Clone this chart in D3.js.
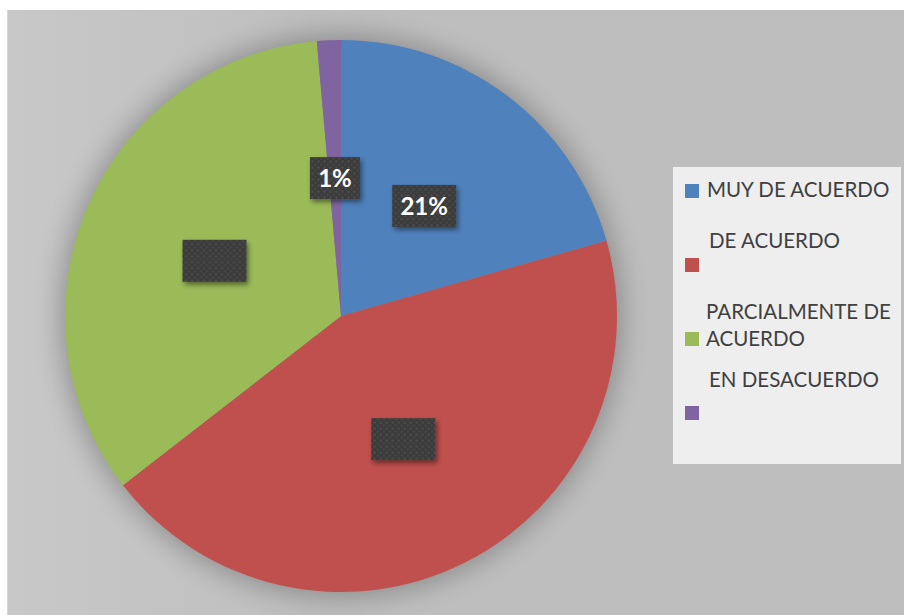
<!DOCTYPE html>
<html><head><meta charset="utf-8">
<script src="https://cdn.jsdelivr.net/npm/d3@7"></script>
<style>body{margin:0;background:#fff}svg{display:block}</style>
</head><body>
<svg id="chart" width="904" height="615"></svg>
<script>
const categories = ["MUY DE ACUERDO", "DE ACUERDO", "PARCIALMENTE DE ACUERDO", "EN DESACUERDO"];
const values = [20.6, 43.9, 34.1, 1.4];
const dataLabels = ["21%", "", "", "1%"];
const colors = ["#4f81bd", "#c0504d", "#9bbb59", "#8064a2"];
const legendLines = [["MUY DE ACUERDO"], ["DE ACUERDO", ""], ["PARCIALMENTE DE", "ACUERDO"], ["EN DESACUERDO", ""]];

const svg = d3.select("#chart");
const defs = svg.append("defs");

const bg = defs.append("linearGradient").attr("id", "bg").attr("x1", 0).attr("x2", 1).attr("y1", 0).attr("y2", 0);
bg.append("stop").attr("offset", "0%").attr("stop-color", "#c8c8c8");
bg.append("stop").attr("offset", "35%").attr("stop-color", "#bebebe");
bg.append("stop").attr("offset", "100%").attr("stop-color", "#bebebe");

const glow = defs.append("filter").attr("id", "glow").attr("x", "-30%").attr("y", "-30%").attr("width", "160%").attr("height", "160%");
glow.append("feGaussianBlur").attr("stdDeviation", 14);

const ds = defs.append("filter").attr("id", "ds").attr("x", "-30%").attr("y", "-30%").attr("width", "160%").attr("height", "170%");
ds.append("feDropShadow").attr("dx", 2).attr("dy", 3).attr("stdDeviation", 2.5).attr("flood-color", "#000").attr("flood-opacity", 0.45);

const pat = defs.append("pattern").attr("id", "tex").attr("patternUnits", "userSpaceOnUse").attr("width", 6).attr("height", 6);
pat.append("rect").attr("width", 6).attr("height", 6).attr("fill", "#3b3b3b");
pat.append("circle").attr("cx", 1.5).attr("cy", 1.5).attr("r", 1.2).attr("fill", "#4d4d4d");
pat.append("circle").attr("cx", 4.5).attr("cy", 4.5).attr("r", 1.2).attr("fill", "#474747");

// background
svg.append("rect").attr("x", 7).attr("y", 10).attr("width", 897).attr("height", 605).attr("fill", "url(#bg)");
svg.append("line").attr("x1", 7.5).attr("x2", 7.5).attr("y1", 10).attr("y2", 615).attr("stroke", "#d6d6d6").attr("stroke-width", 1);

const cx = 341, cy = 316, r = 276;
const g = svg.append("g").attr("transform", `translate(${cx},${cy})`);

g.append("circle").attr("r", r + 4).attr("fill", "#000").attr("opacity", 0.28).attr("filter", "url(#glow)");

const pie = d3.pie().sort(null).value(d => d)(values);
const arc = d3.arc().innerRadius(0).outerRadius(r);

g.selectAll("path.slice").data(pie).join("path").attr("class", "slice")
  .attr("d", arc).attr("fill", (d, i) => colors[i]);

// data labels
const lbl = g.selectAll("g.lbl").data(pie).join("g").attr("class", "lbl")
  .attr("transform", d => { const c = arc.centroid(d); return `translate(${c[0]},${c[1]})`; });
lbl.each(function(d, i) {
  const s = d3.select(this);
  const t = s.append("text").text(dataLabels[i])
    .attr("font-family", "Lato, 'Open Sans', sans-serif").attr("font-weight", "bold")
    .attr("font-size", 24).attr("fill", "#fff").attr("text-anchor", "middle").attr("dy", "0.36em");
  const tw = dataLabels[i] ? t.node().getComputedTextLength() : 48;
  const w = Math.round(tw + 16), h = 42;
  s.insert("rect", "text").attr("x", -w / 2).attr("y", -h / 2).attr("width", w).attr("height", h)
    .attr("fill", "url(#tex)").attr("filter", "url(#ds)");
});

// legend
const leg = svg.append("g");
leg.append("rect").attr("x", 673).attr("y", 167).attr("width", 228).attr("height", 297).attr("fill", "#eeeeee");
const rowTop = [184, 258, 332, 406];
const textX = [707, 709, 706, 709];
const textBase = [[197], [248, 0], [319, 346], [387, 0]];
categories.forEach((c, i) => {
  leg.append("rect").attr("x", 685).attr("y", rowTop[i]).attr("width", 14).attr("height", 14).attr("fill", colors[i]);
  legendLines[i].forEach((ln, j) => {
    if (!ln) return;
    leg.append("text").attr("x", textX[i]).attr("y", textBase[i][j]).text(ln)
      .attr("font-family", "Lato, 'Open Sans', sans-serif").attr("font-size", 20.5).attr("fill", "#404040");
  });
});
</script>
</body></html>
